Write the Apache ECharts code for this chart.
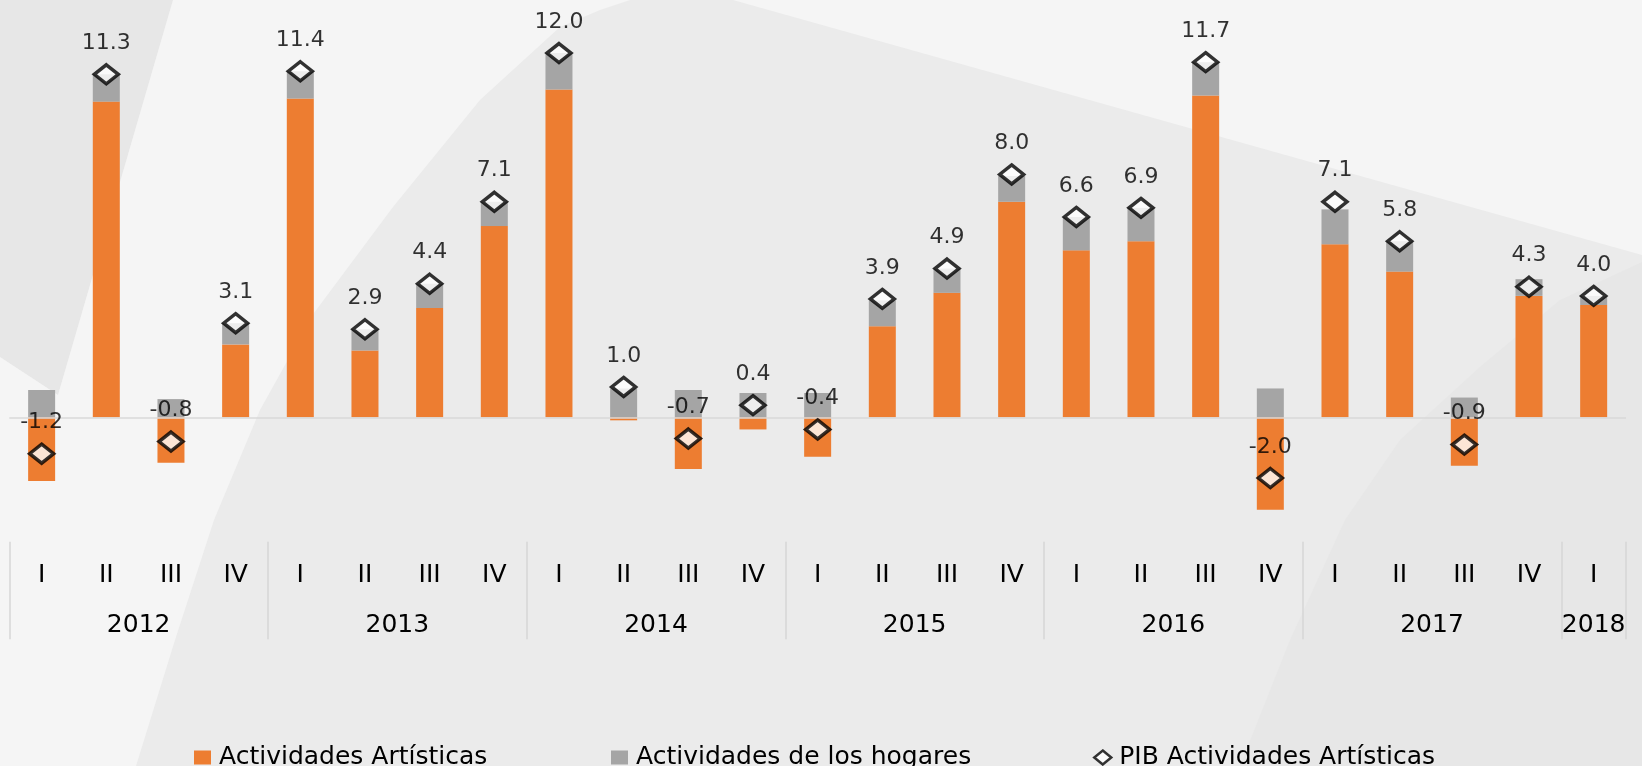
<!DOCTYPE html>
<html>
<head>
<meta charset="utf-8">
<script src="https://cdn.jsdelivr.net/npm/echarts@6.0.0/dist/echarts.min.js"></script>
<style>
  html, body { margin: 0; padding: 0; }
  #chart { width: 1642px; height: 766px; }
</style>
</head>
<body>
<div id="chart"></div>
<script>
// quarters 2012 I .. 2018 I
const quarters = ['I', 'II', 'III', 'IV', 'I', 'II', 'III', 'IV', 'I', 'II', 'III', 'IV',
    'I', 'II', 'III', 'IV', 'I', 'II', 'III', 'IV', 'I', 'II', 'III', 'IV', 'I'];
const years = ['2012', '2013', '2014', '2015', '2016', '2017', '2018'];
const yearCenters = [2, 6, 10, 14, 18, 22, 24.5];
const yearBounds = [0, 4, 8, 12, 16, 20, 24, 25];

const artisticas = [-2.1, 10.4, -1.5, 2.4, 10.5, 2.2, 3.6, 6.3, 10.8, -0.1, -1.7, -0.4,
    -1.3, 3.0, 4.1, 7.1, 5.5, 5.8, 10.6, -3.05, 5.7, 4.8, -1.6, 4.0, 3.7];
const hogares = [0.9, 0.9, 0.6, 0.7, 0.9, 0.7, 0.8, 0.8, 1.2, 0.95, 0.9, 0.8,
    0.8, 0.85, 0.8, 0.85, 1.1, 1.1, 1.1, 0.95, 1.15, 1.0, 0.65, 0.55, 0.3];
const pib = [-1.2, 11.3, -0.8, 3.1, 11.4, 2.9, 4.4, 7.1, 12.0, 1.0, -0.7, 0.4,
    -0.4, 3.9, 4.9, 8.0, 6.6, 6.9, 11.7, -2.0, 7.1, 5.8, -0.9, 4.3, 4.0];

const font = '"DejaVu Sans", Lato, sans-serif';

const myChart = echarts.init(document.getElementById('chart'));

// one legend block per series so each sits where the original has it
const legendBlock = (name, icon, left, extra) => ({
    left: left,
    top: 740,
    itemWidth: 17,
    itemHeight: 14,
    textStyle: { fontSize: 25, color: '#000', fontFamily: font, padding: [0, 0, 0, 3] },
    data: [Object.assign({ name: name, icon: icon }, extra || {})]
});

const option = {
    backgroundColor: '#ebebeb',
    textStyle: { fontFamily: font },
    animation: false,
    // decorative background shapes
    graphic: [
        {
            type: 'polygon', z: -10, silent: true,
            shape: { points: [[0, 0], [173, 0], [58, 395], [0, 357]] },
            style: { fill: '#e7e7e7' }
        },
        {
            type: 'polygon', z: -10, silent: true,
            shape: {
                points: [[173, 0], [630, 0], [600, 10], [560, 27], [480, 100], [393, 207],
                    [314, 313], [260, 410], [214, 520], [175, 640], [136, 766], [0, 766],
                    [0, 357], [58, 395]]
            },
            style: { fill: '#f5f5f5' }
        },
        {
            type: 'polygon', z: -10, silent: true,
            shape: { points: [[733, 0], [1642, 0], [1642, 255]] },
            style: { fill: '#f5f5f5' }
        },
        {
            type: 'polygon', z: -10, silent: true,
            shape: {
                points: [[1642, 262], [1560, 300], [1480, 367], [1400, 440], [1345, 520],
                    [1290, 640], [1240, 766], [1642, 766]]
            },
            style: { fill: '#e7e7e7' }
        }
    ],
    grid: {
        left: 9.3,
        right: 16,
        top: 22.7,
        bottom: 227.3,
        containLabel: false,
        outerBoundsMode: 'none'
    },
    legend: [
        legendBlock('Actividades Artísticas', 'rect', 189),
        legendBlock('Actividades de los hogares', 'rect', 606),
        legendBlock('PIB Actividades Artísticas', 'diamond', 1088, { itemStyle: { borderWidth: 2.5 } })
    ],
    xAxis: [
        {
            type: 'category',
            data: quarters,
            position: 'bottom',
            axisLine: { show: false },
            axisTick: { show: false },
            axisLabel: { margin: 24, fontSize: 25, color: '#000', fontFamily: font, interval: 0 }
        },
        {
            type: 'value',
            min: 0,
            max: 25,
            position: 'bottom',
            offset: 100.6,
            axisLine: { show: false },
            splitLine: { show: false },
            axisTick: {
                show: true,
                customValues: yearBounds,
                inside: true,
                length: 97.6,
                lineStyle: { color: '#d6d6d6', width: 1.5 }
            },
            axisLabel: {
                customValues: yearCenters,
                inside: true,
                margin: 1,
                fontSize: 25,
                color: '#000',
                fontFamily: font,
                formatter: (v) => years[yearCenters.indexOf(v)]
            }
        }
    ],
    yAxis: {
        type: 'value',
        min: -4,
        max: 13,
        show: false
    },
    series: [
        {
            name: 'Actividades Artísticas',
            type: 'bar',
            stack: 'total',
            barWidth: 27,
            color: '#ed7d31',
            data: artisticas,
            markLine: {
                silent: true,
                symbol: 'none',
                label: { show: false },
                lineStyle: { color: '#d9d9d9', type: 'solid', width: 1.5 },
                data: [{ yAxis: 0 }]
            }
        },
        {
            name: 'Actividades de los hogares',
            type: 'bar',
            stack: 'total',
            barWidth: 27,
            color: '#a5a5a5',
            data: hogares
        },
        {
            name: 'PIB Actividades Artísticas',
            type: 'scatter',
            symbol: 'diamond',
            symbolSize: [24, 19],
            z: 5,
            itemStyle: { color: '#fff', borderColor: '#000', borderWidth: 3.5 },
            label: {
                show: true,
                position: 'top',
                distance: 9,
                fontSize: 22,
                color: '#000',
                fontFamily: font,
                formatter: (p) => p.value.toFixed(1)
            },
            data: pib
        }
    ]
};

myChart.setOption(option);
</script>
</body>
</html>
